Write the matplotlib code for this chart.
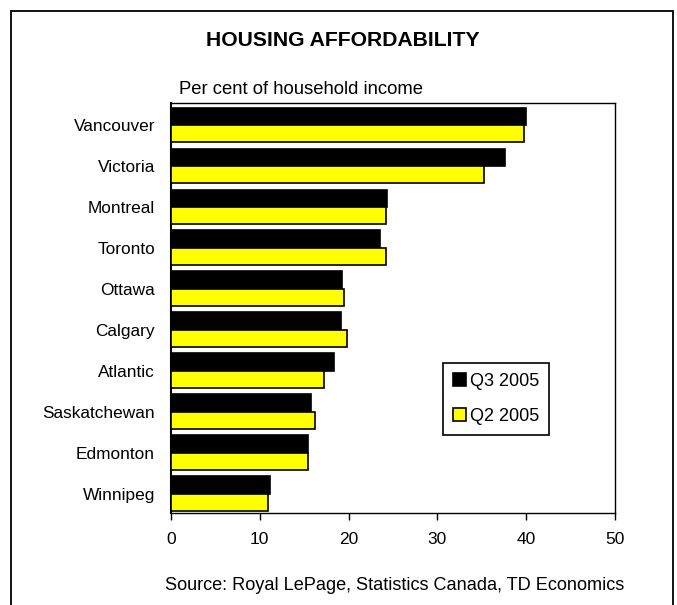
import matplotlib
matplotlib.use("Agg")
import matplotlib.pyplot as plt
import matplotlib.patches as mpatches
import numpy as np

plt.rcParams['font.family'] = ['Liberation Sans', 'DejaVu Sans']

cities = ["Vancouver", "Victoria", "Montreal", "Toronto", "Ottawa", "Calgary",
          "Atlantic", "Saskatchewan", "Edmonton", "Winnipeg"]
q3_2005 = [40.0, 37.6, 24.3, 23.5, 19.3, 19.2, 18.3, 15.8, 15.4, 11.1]
q2_2005 = [39.8, 35.2, 24.2, 24.2, 19.5, 19.8, 17.2, 16.2, 15.4, 10.9]
xticks = [0, 10, 20, 30, 40, 50]

W, H = 677, 605
fig = plt.figure(figsize=(W / 100, H / 100), dpi=100)

ax = fig.add_axes([171 / W, 1 - 512.7 / H, (615 - 171) / W, (512.7 - 103) / H])

y = np.arange(len(cities))
h = 0.42
ax.barh(y - h / 2, q3_2005, height=h, color='black', edgecolor='black',
        linewidth=1.2, label='Q3 2005', zorder=3)
ax.barh(y + h / 2, q2_2005, height=h, color='#FFFF00', edgecolor='black',
        linewidth=1.2, label='Q2 2005', zorder=3)

ax.set_xlim(0, 50)
ax.set_ylim(9.5 - 0.032, -0.5 - 0.032)
ax.set_xticks(xticks)
ax.set_xticklabels([str(t) for t in xticks])
ax.set_yticks(y)
ax.set_yticklabels(cities)
ax.tick_params(axis='x', direction='out', length=5, width=1.0, pad=9,
               labelsize=12.5, colors='black')
ax.tick_params(axis='y', length=0, pad=11.5, labelsize=12.4)
for s in ax.spines.values():
    s.set_color('black')
    s.set_linewidth(1.0)
ax.spines['left'].set_linewidth(1.5)

leg = ax.legend(loc='upper left', bbox_to_anchor=(443 / W, 1 - 363 / H),
                bbox_transform=fig.transFigure, borderaxespad=0,
                fontsize=13, frameon=True, fancybox=False, shadow=False,
                handlelength=0.7, handleheight=0.7, handletextpad=0.22,
                labelspacing=1.0, borderpad=0.55)
leg.get_frame().set_edgecolor('black')
leg.get_frame().set_linewidth(1.2)
leg.get_frame().set_alpha(1)

fig.text(343 / W, 1 - 41 / H, "HOUSING AFFORDABILITY", ha='center', va='center',
         fontsize=15.2, fontweight='bold')
fig.text(179 / W, 1 - 90 / H, "Per cent of household income", ha='left',
         va='center', fontsize=13.3)
fig.text(165 / W, 1 - 586 / H, "Source: Royal LePage, Statistics Canada, TD Economics",
         ha='left', va='center', fontsize=13.1)

border = mpatches.Rectangle((11 / W, -0.1), (673 - 11) / W, 1 - 11 / H + 0.1,
                            transform=fig.transFigure, fill=False,
                            edgecolor='black', linewidth=1.3, clip_on=False)
fig.patches.append(border)

fig.savefig("out.png", dpi=100)
